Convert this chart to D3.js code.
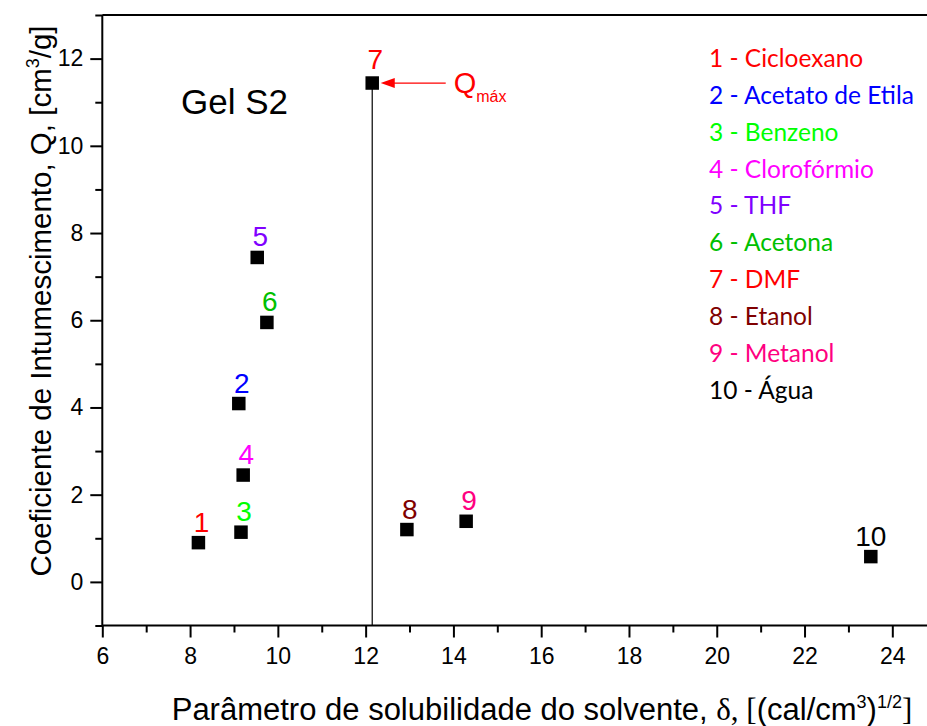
<!DOCTYPE html>
<html>
<head>
<meta charset="utf-8">
<script src="https://cdn.jsdelivr.net/npm/d3@7"></script>
<style>
  html, body { margin: 0; padding: 0; background: #fff; }
  svg { display: block; }
</style>
</head>
<body>
<svg id="chart" width="927" height="726"></svg>
<script>
// Swelling coefficient of gel S2 versus solvent solubility parameter
const solventIds   = ["1", "2", "3", "4", "5", "6", "7", "8", "9", "10"];
const solventNames = ["Cicloexano", "Acetato de Etila", "Benzeno", "Clorofórmio", "THF",
                      "Acetona", "DMF", "Etanol", "Metanol", "Água"];
const delta        = [8.19, 9.11, 9.16, 9.21, 9.53, 9.75, 12.15, 12.94, 14.29, 23.51];
const swelling     = [0.90, 4.09, 1.14, 2.45, 7.44, 5.95, 11.44, 1.20, 1.39, 0.58];
const solventColors = ["#ff0000", "#0000ff", "#00ff00", "#ff00ff", "#8000ff",
                       "#00c000", "#ff0000", "#7f0000", "#ff0080", "#000000"];
const xMajorTicks = [6, 8, 10, 12, 14, 16, 18, 20, 22, 24];
const xMinorTicks = [7, 9, 11, 13, 15, 17, 19, 21, 23, 25];
const yMajorTicks = [0, 2, 4, 6, 8, 10, 12];
const yMinorTicks = [-1, 1, 3, 5, 7, 9, 11, 13];
const maxIndex = swelling.indexOf(d3.max(swelling));

const svg = d3.select("#chart");
const sans = "'Liberation Sans', Arial, Helvetica, sans-serif";
const serif = "'Liberation Serif', 'Times New Roman', serif";

const x = d3.scaleLinear().domain([6, 25]).range([102.3, 936.2]);
const y = d3.scaleLinear().domain([-1, 13]).range([625.5, 15]);

// frame lines: left, bottom and top
svg.append("line").attr("x1", x(6)).attr("x2", 927).attr("y1", y(-1)).attr("y2", y(-1))
  .attr("stroke", "#000").attr("stroke-width", 2);
svg.append("line").attr("x1", x(6)).attr("x2", 927).attr("y1", y(13)).attr("y2", y(13))
  .attr("stroke", "#000").attr("stroke-width", 2);
svg.append("line").attr("x1", x(6)).attr("x2", x(6)).attr("y1", y(13)).attr("y2", y(-1))
  .attr("stroke", "#000").attr("stroke-width", 2);

// x axis: major ticks with labels, minor ticks without
const gx = svg.append("g").attr("transform", `translate(0,${y(-1)})`)
  .call(d3.axisBottom(x).tickValues(xMajorTicks).tickSize(12).tickSizeOuter(0).tickPadding(10)
        .tickFormat(d3.format("d")));
const gxm = svg.append("g").attr("transform", `translate(0,${y(-1)})`)
  .call(d3.axisBottom(x).tickValues(xMinorTicks).tickSize(7).tickSizeOuter(0).tickFormat(""));

const gy = svg.append("g").attr("transform", `translate(${x(6)},0)`)
  .call(d3.axisLeft(y).tickValues(yMajorTicks).tickSize(12).tickSizeOuter(0).tickPadding(7)
        .tickFormat(d3.format("d")));
const gym = svg.append("g").attr("transform", `translate(${x(6)},0)`)
  .call(d3.axisLeft(y).tickValues(yMinorTicks).tickSize(7).tickSizeOuter(0).tickFormat(""));

[gx, gxm, gy, gym].forEach(g => {
  g.select(".domain").remove();
  g.selectAll(".tick line").attr("stroke", "#000").attr("stroke-width", 2);
  g.selectAll(".tick text").attr("fill", "#000")
    .style("font-family", sans).style("font-size", "23px");
});

// drop line marking the maximum swelling
svg.append("line")
  .attr("x1", x(delta[maxIndex])).attr("x2", x(delta[maxIndex]))
  .attr("y1", y(swelling[maxIndex])).attr("y2", y(-1))
  .attr("stroke", "#000").attr("stroke-width", 1.2);

// data points
const side = 13.5;
svg.append("g").selectAll("rect").data(delta).join("rect")
  .attr("x", (d) => x(d) - side / 2)
  .attr("y", (d, i) => y(swelling[i]) - side / 2)
  .attr("width", side).attr("height", side)
  .attr("fill", "#000");

// numbered labels above the points
svg.append("g").selectAll("text").data(delta).join("text")
  .attr("x", (d, i) => x(d) + (i === 9 ? 0 : 3))
  .attr("y", (d, i) => y(swelling[i]) - (i === maxIndex ? 14 : 11))
  .attr("text-anchor", "middle")
  .attr("fill", (d, i) => solventColors[i])
  .style("font-family", sans).style("font-size", "28px")
  .text((d, i) => solventIds[i]);

// Q_max annotation arrow
const ax = x(delta[maxIndex]) + 8.5, ay = y(swelling[maxIndex]);
svg.append("line").attr("x1", ax + 10).attr("x2", ax + 65).attr("y1", ay).attr("y2", ay)
  .attr("stroke", "#ff0000").attr("stroke-width", 1.3);
svg.append("path")
  .attr("d", `M${ax},${ay} L${ax + 14},${ay - 5} L${ax + 14},${ay + 5} Z`)
  .attr("fill", "#ff0000");
const qText = svg.append("text").attr("x", ax + 73).attr("y", ay + 10)
  .attr("fill", "#ff0000").style("font-family", sans).style("font-size", "29px");
qText.append("tspan").text("Q");
qText.append("tspan").attr("dy", 9).style("font-size", "16px").text("máx");

// sample name
svg.append("text").attr("x", 181).attr("y", 114)
  .style("font-family", sans).style("font-size", "35px").attr("fill", "#000")
  .text("Gel S2");

// legend
svg.append("g").selectAll("text").data(solventNames).join("text")
  .attr("x", 709)
  .attr("y", (d, i) => 67 + i * 36.85)
  .attr("fill", (d, i) => solventColors[i])
  .style("font-family", "Lato, 'Open Sans', sans-serif").style("font-size", "24.5px")
  .text((d, i) => `${solventIds[i]} - ${d}`);

// axis titles
const xt = svg.append("text").attr("x", 542).attr("y", 720).attr("text-anchor", "middle")
  .style("font-family", sans).style("font-size", "31px").attr("fill", "#000");
xt.append("tspan").text("Parâmetro de solubilidade do solvente, ");
xt.append("tspan").style("font-family", serif).text("δ, [");
xt.append("tspan").text("(cal/cm");
xt.append("tspan").attr("dy", -12).style("font-size", "18px").text("3");
xt.append("tspan").attr("dy", 12).text(")");
xt.append("tspan").attr("dy", -12).style("font-size", "18px").text("1/2");
xt.append("tspan").attr("dy", 12).style("font-family", serif).text("]");

const yt = svg.append("text").attr("transform", "translate(51,301) rotate(-90)")
  .attr("text-anchor", "middle")
  .style("font-family", sans).style("font-size", "29.5px").attr("fill", "#000");
yt.append("tspan").text("Coeficiente de Intumescimento, Q, [cm");
yt.append("tspan").attr("dy", -12).style("font-size", "18px").text("3");
yt.append("tspan").attr("dy", 12).text("/g]");
</script>
</body>
</html>
